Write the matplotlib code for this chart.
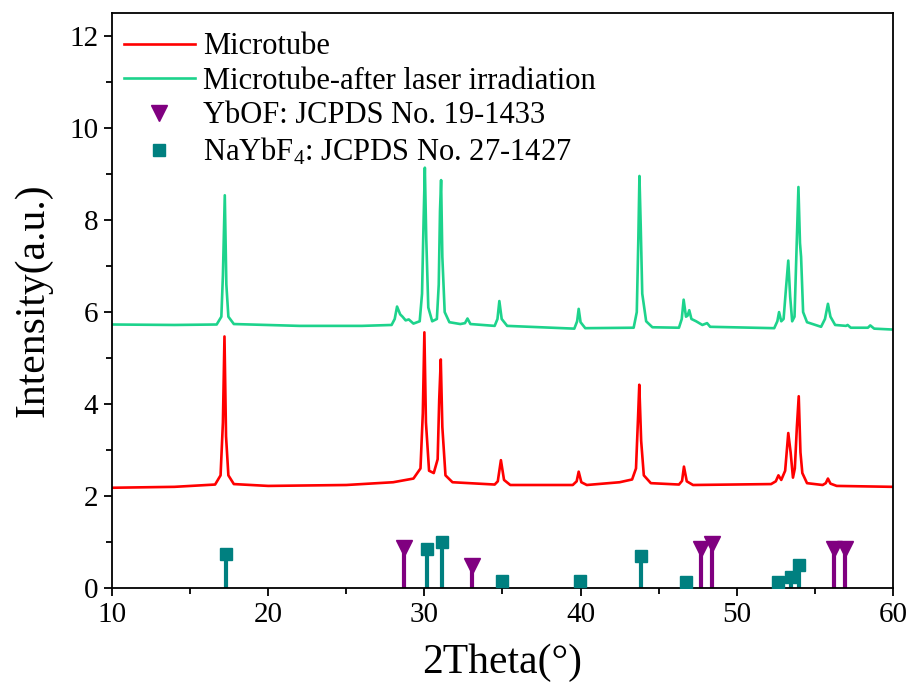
import matplotlib
matplotlib.use("Agg")
import matplotlib.pyplot as plt
from matplotlib.ticker import MultipleLocator

plt.rcParams['font.family'] = ['Liberation Serif', 'DejaVu Serif']
plt.rcParams['mathtext.fontset'] = 'custom'
plt.rcParams['mathtext.rm'] = 'Liberation Serif'
plt.rcParams['mathtext.it'] = 'Liberation Serif:italic'

# Microtube XRD pattern (2theta, intensity)
microtube_pts = [
    (10, 2.18), (14, 2.2), (16.6, 2.25), (16.95, 2.45), (17.1, 3.6), (17.2, 5.47),
    (17.3, 3.3), (17.45, 2.45), (17.8, 2.26), (20, 2.22), (25, 2.24), (28, 2.3),
    (29.3, 2.38), (29.75, 2.6), (29.9, 3.8), (30.0, 5.56), (30.1, 3.6), (30.3, 2.55),
    (30.6, 2.5), (30.85, 2.8), (30.95, 4.1), (31.05, 4.97), (31.15, 3.5), (31.35, 2.45),
    (31.8, 2.3), (34.5, 2.25), (34.7, 2.32), (34.8, 2.55), (34.9, 2.78), (35.1, 2.35),
    (35.5, 2.24), (39.5, 2.24), (39.75, 2.32), (39.88, 2.53), (40.05, 2.3), (40.4, 2.24),
    (42.5, 2.3), (43.3, 2.36), (43.55, 2.6), (43.68, 3.7), (43.76, 4.42), (43.88, 3.2),
    (44.05, 2.45), (44.5, 2.28), (46.3, 2.25), (46.5, 2.33), (46.62, 2.64), (46.8, 2.32),
    (47.2, 2.24), (52.2, 2.26), (52.5, 2.32), (52.67, 2.45), (52.85, 2.35), (53.1, 2.55),
    (53.3, 3.37), (53.45, 2.95), (53.6, 2.4), (53.72, 2.6), (53.85, 3.5), (53.97, 4.17),
    (54.08, 2.95), (54.2, 2.5), (54.5, 2.28), (55.5, 2.24), (55.7, 2.28), (55.84, 2.38),
    (56.0, 2.27), (56.4, 2.22), (60, 2.2),
]

# Microtube after laser irradiation XRD pattern (2theta, intensity)
irradiated_pts = [
    (10, 5.73), (14, 5.72), (16.7, 5.73), (17.0, 5.9), (17.1, 6.8), (17.22, 8.54),
    (17.32, 6.6), (17.45, 5.9), (17.8, 5.74), (22, 5.7), (26, 5.7), (27.9, 5.72),
    (28.1, 5.85), (28.25, 6.12), (28.45, 5.95), (28.6, 5.9), (28.8, 5.82), (29.0, 5.84),
    (29.3, 5.75), (29.7, 5.8), (29.85, 6.4), (29.95, 8.0), (30.03, 9.14), (30.12, 7.6),
    (30.25, 6.1), (30.5, 5.8), (30.8, 5.85), (30.92, 6.6), (31.0, 8.2), (31.07, 8.87),
    (31.15, 7.2), (31.3, 6.0), (31.6, 5.78), (32.3, 5.74), (32.6, 5.76), (32.76, 5.86),
    (32.95, 5.74), (34.5, 5.7), (34.68, 5.85), (34.8, 6.24), (34.95, 5.85), (35.3, 5.7),
    (39.6, 5.64), (39.78, 5.8), (39.88, 6.07), (40.0, 5.78), (40.3, 5.65), (43.4, 5.66),
    (43.6, 6.0), (43.7, 7.6), (43.77, 8.96), (43.85, 7.9), (43.95, 6.4), (44.2, 5.8),
    (44.6, 5.67), (46.3, 5.66), (46.48, 5.85), (46.6, 6.27), (46.75, 5.9), (46.85, 5.92),
    (46.96, 6.04), (47.1, 5.85), (47.4, 5.8), (47.8, 5.72), (48.1, 5.76), (48.3, 5.68),
    (52.4, 5.65), (52.6, 5.8), (52.71, 6.0), (52.85, 5.8), (53.0, 5.85), (53.15, 6.5),
    (53.3, 7.12), (53.42, 6.34), (53.55, 5.8), (53.7, 5.9), (53.85, 7.6), (53.95, 8.72),
    (54.05, 7.5), (54.12, 7.2), (54.25, 6.0), (54.5, 5.78), (55.4, 5.68), (55.65, 5.85),
    (55.84, 6.18), (56.0, 5.9), (56.3, 5.72), (57.0, 5.7), (57.1, 5.72), (57.3, 5.66),
    (58.4, 5.66), (58.55, 5.71), (58.8, 5.64), (60, 5.62),
]

# Reference patterns
ybof_pos = [28.67, 33.03, 47.68, 48.44, 56.25, 56.93]
ybof_int = [0.88, 0.47, 0.85, 0.95, 0.85, 0.85]
naybf4_pos = [17.3, 30.14, 31.12, 34.96, 39.98, 43.84, 46.75, 52.67, 53.45, 53.99]
naybf4_int = [0.75, 0.85, 1.0, 0.15, 0.15, 0.7, 0.12, 0.12, 0.25, 0.5]

labels = ["Microtube", "Microtube-after laser irradiation",
          "YbOF: JCPDS No. 19-1433", r"NaYbF$_4$: JCPDS No. 27-1427"]

red = "#FF0000"
green = "#1DD38C"
purple = "#800080"
teal = "#008080"

fig = plt.figure(figsize=(9.13, 6.93), dpi=100)
ax = fig.add_axes([0.1227, 0.1515, 0.978 - 0.1227, 0.981 - 0.1515])

mx, my = zip(*microtube_pts)
ix, iy = zip(*irradiated_pts)
ax.plot(mx, my, color=red, lw=1.9, label=labels[0])
ax.plot(ix, iy, color=green, lw=1.9, label=labels[1])

ax.vlines(ybof_pos, 0, ybof_int, color=purple, lw=3)
ax.plot(ybof_pos, ybof_int, linestyle='none', marker='v', ms=12, color=purple,
        label=labels[2], zorder=4)
ax.vlines(naybf4_pos, 0, naybf4_int, color=teal, lw=3)
ax.plot(naybf4_pos, naybf4_int, linestyle='none', marker='s', ms=8, color=teal,
        label=labels[3], zorder=4)

ax.set_xlim(10, 60)
ax.set_ylim(0, 12.5)
ax.xaxis.set_major_locator(MultipleLocator(10))
ax.xaxis.set_minor_locator(MultipleLocator(5))
ax.yaxis.set_major_locator(MultipleLocator(2))
ax.yaxis.set_minor_locator(MultipleLocator(1))
ax.tick_params(which='both', direction='out', top=False, right=False, width=1.3,
               labelsize=21)
ax.tick_params(which='major', length=6, pad=4)
ax.tick_params(which='minor', length=4)
for s in ax.spines.values():
    s.set_linewidth(1.3)

ax.set_xlabel("2Theta(°)", fontsize=30, labelpad=11)
ax.set_ylabel("Intensity(a.u.)", fontsize=30, labelpad=12)

ax.legend(loc='upper left', bbox_to_anchor=(0.0, 0.988), frameon=False,
          fontsize=22, handlelength=2.3, handletextpad=0.28, labelspacing=0.18,
          borderaxespad=0.2, borderpad=0.2)

fig.savefig("out.png", dpi=100)
